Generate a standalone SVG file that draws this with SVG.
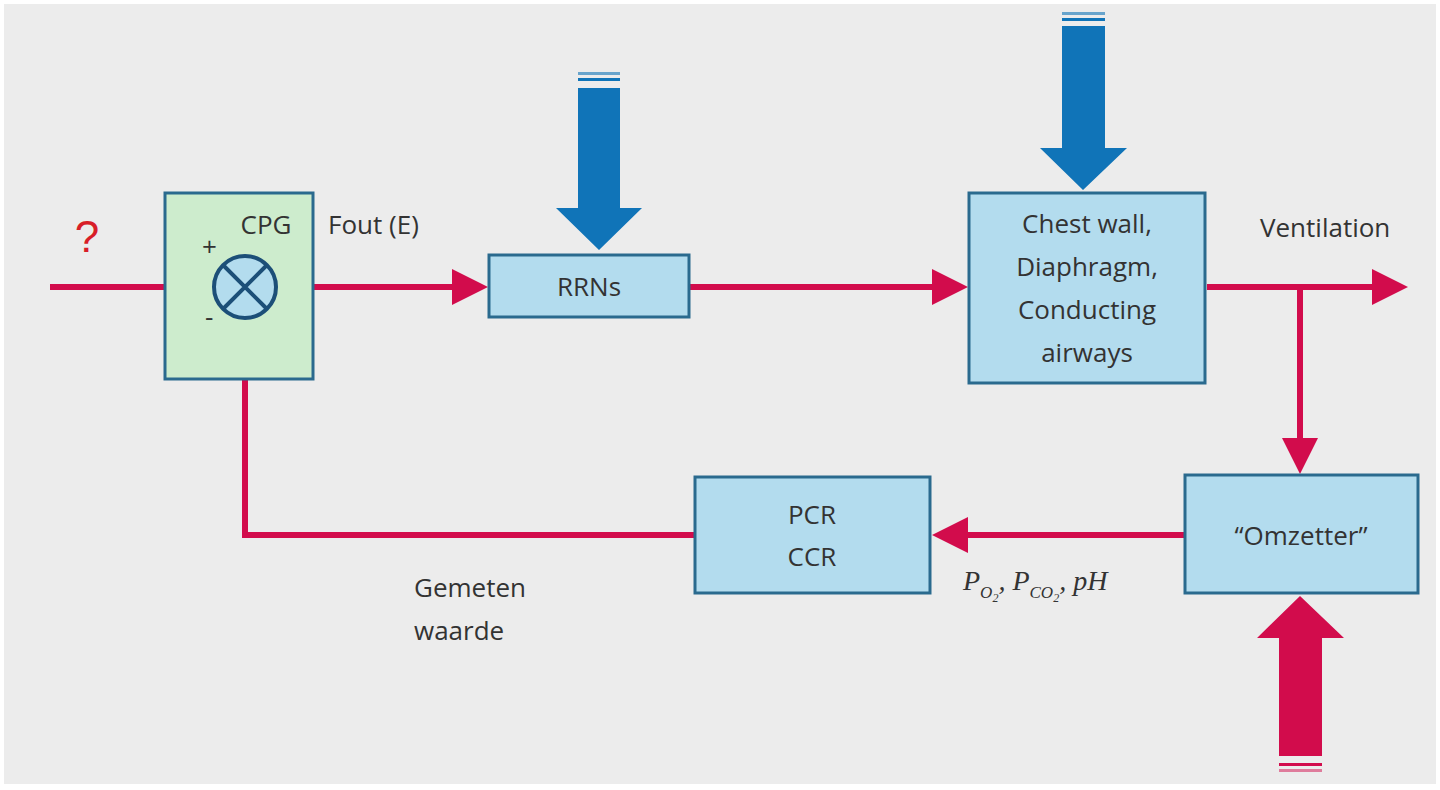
<svg xmlns="http://www.w3.org/2000/svg" width="1440" height="790" viewBox="0 0 1440 790">
<style>
.box{fill:#b3dcee;stroke:#2a6a8e;stroke-width:3}
.t{font-family:"Open Sans","Liberation Sans",sans-serif;font-size:26px;fill:#333}
.ln{fill:none;stroke:#d20c4c;stroke-width:6}
.m{font-family:"Liberation Serif",serif;font-style:italic;font-size:28px;fill:#333}
</style>
<defs>
<marker id="ah" markerWidth="6" markerHeight="6" refX="5" refY="3" orient="auto" markerUnits="strokeWidth"><path d="M0,0L6,3L0,6z" fill="#d20c4c"/></marker>
</defs>
<rect width="1440" height="790" fill="#fff"/>
<rect x="4" y="4" width="1432" height="780" fill="#ececec"/>
<g id="connectors">
<path class="ln" d="M50,287H208" marker-end="url(#ah)"/>
<path class="ln" d="M283,287H482" marker-end="url(#ah)"/>
<path class="ln" d="M690,287H962" marker-end="url(#ah)"/>
<path class="ln" d="M1207,287H1402" marker-end="url(#ah)"/>
<path class="ln" d="M1300,287V468" marker-end="url(#ah)"/>
<path class="ln" d="M1184,535H938" marker-end="url(#ah)"/>
<path class="ln" d="M694,535H245V324" marker-end="url(#ah)"/>
<g fill="#1074b8">
<path d="M578,88H620V208H642L599,250L556,208H578Z"/>
<rect x="578" y="72" width="42" height="3" opacity="0.6"/><rect x="578" y="78" width="42" height="3"/>
<path d="M1062,26H1105V148H1127L1083,190L1040,148H1062Z"/>
<rect x="1062" y="12" width="43" height="3" opacity="0.6"/><rect x="1062" y="18" width="43" height="3"/>
</g>
<g fill="#d20c4c">
<path d="M1279,756V638H1257L1300,596L1344,638H1322V756Z"/>
<rect x="1279" y="763" width="43" height="3"/><rect x="1279" y="769" width="43" height="3" opacity="0.5"/>
</g>
</g>
<g id="cpg">
<rect x="165" y="193" width="148" height="186" fill="#cdeccd" stroke="#2a6a8e" stroke-width="3"/>
<text class="t" x="266" y="234" text-anchor="middle">CPG</text>
<text class="t" x="202" y="256" font-size="20">+</text>
<text class="t" x="205" y="326" font-size="20">-</text>
<circle cx="245" cy="287" r="31" fill="#b3dcee" stroke="#1c4f78" stroke-width="4"/>
<path d="M223,265L267,309M267,265L223,309" stroke="#1c4f78" stroke-width="4"/>
</g>
<g id="q"><text x="87" y="252" font-family="Liberation Sans,sans-serif" font-size="44" fill="#d81e28" text-anchor="middle">?</text></g>
<text class="t" x="328" y="234">Fout (E)</text>
<g id="rrns"><rect class="box" x="489" y="255" width="200" height="62"/><text class="t" x="589" y="296" text-anchor="middle">RRNs</text></g>
<g id="chest"><rect class="box" x="969" y="193" width="236" height="190"/>
<text class="t" x="1087" y="233" text-anchor="middle">Chest wall,</text>
<text class="t" x="1087" y="276" text-anchor="middle">Diaphragm,</text>
<text class="t" x="1087" y="319" text-anchor="middle">Conducting</text>
<text class="t" x="1087" y="362" text-anchor="middle">airways</text></g>
<text class="t" x="1260" y="237">Ventilation</text>
<g id="omzetter"><rect class="box" x="1185" y="475" width="233" height="118"/><text class="t" x="1301" y="545" text-anchor="middle">“Omzetter”</text></g>
<g id="pcr"><rect class="box" x="695" y="477" width="235" height="116"/>
<text class="t" x="812" y="524" text-anchor="middle">PCR</text>
<text class="t" x="812" y="566" text-anchor="middle">CCR</text></g>
<text class="t" x="414" y="597">Gemeten</text>
<text class="t" x="414" y="640">waarde</text>
<text class="m" x="963" y="590">P<tspan font-size="17" dy="8">O</tspan><tspan font-size="12" dy="4">2</tspan><tspan dy="-12">, P</tspan><tspan font-size="17" dy="8">CO</tspan><tspan font-size="12" dy="4">2</tspan><tspan dy="-12">, pH</tspan></text>
</svg>
